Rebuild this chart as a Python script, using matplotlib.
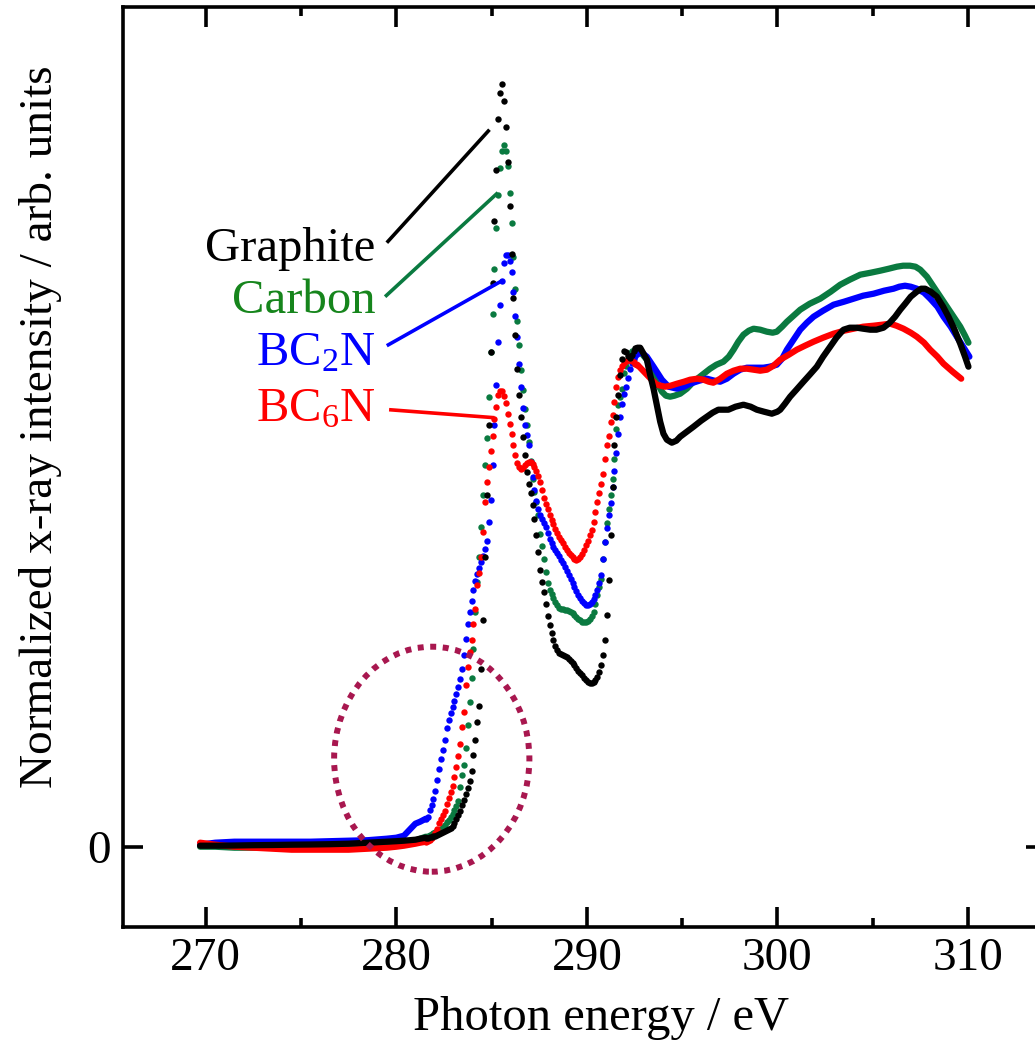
import matplotlib
matplotlib.use("Agg")
import matplotlib.pyplot as plt
from matplotlib.patches import Ellipse
from matplotlib.ticker import MultipleLocator

plt.rcParams['font.family'] = ['Liberation Serif', 'DejaVu Serif']
plt.rcParams['mathtext.fontset'] = 'custom'
plt.rcParams['mathtext.rm'] = 'Liberation Serif'
plt.rcParams['mathtext.it'] = 'Liberation Serif:italic'

# ---------------- data (photon energy in eV, normalized intensity in arb. units) ----------------
series_names = ["Graphite", "Carbon", "BC$_2$N", "BC$_6$N"]

# pre-edge baseline (shared energies)
base_energy = [269.7, 270.5, 271.5, 272.5, 273.5, 274.5, 275.5, 276.5, 277.5, 278.5,
               279.5, 280.0, 280.4, 280.7, 281.0, 281.25, 281.55]
graphite_base = [0.01, 0.01, 0.012, 0.015, 0.017, 0.02, 0.022, 0.025, 0.03, 0.04,
                 0.05, 0.055, 0.06, 0.065, 0.07, 0.08, 0.09]
carbon_base = [0.0, 0.0, -0.01, -0.01, -0.01, -0.01, -0.01, -0.01, 0.0, 0.0,
               0.01, 0.02, 0.03, 0.05, 0.06, 0.08, 0.10]
bc2n_base = [0.02, 0.04, 0.05, 0.05, 0.05, 0.05, 0.05, 0.055, 0.06, 0.065,
             0.08, 0.09, 0.11, 0.17, 0.23, 0.25, 0.28]
bc6n_base = [0.04, 0.02, 0.0, -0.01, -0.02, -0.03, -0.03, -0.03, -0.03, -0.02,
             -0.01, 0.0, 0.01, 0.02, 0.03, 0.04, 0.05]

# absorption edge region, measured points every 0.1 eV
edge_energy = [281.55, 281.65, 281.75, 281.85, 281.95, 282.05, 282.15, 282.25, 282.35, 282.45,
               282.55, 282.65, 282.75, 282.85, 282.95, 283.05, 283.15, 283.25, 283.35, 283.45,
               283.55, 283.65, 283.75, 283.85, 283.95, 284.05, 284.15, 284.25, 284.35, 284.45,
               284.55, 284.65, 284.75, 284.85, 284.95, 285.05, 285.15, 285.25, 285.35, 285.45,
               285.55, 285.65, 285.75, 285.85, 285.95, 286.05, 286.15, 286.25, 286.35, 286.45,
               286.55, 286.65, 286.75, 286.85, 286.95, 287.05, 287.15, 287.25, 287.35, 287.45,
               287.55, 287.65, 287.75, 287.85, 287.95, 288.05, 288.15, 288.25, 288.35, 288.45,
               288.55, 288.65, 288.75, 288.85, 288.95, 289.05, 289.15, 289.25, 289.35, 289.45,
               289.55, 289.65, 289.75, 289.85, 289.95, 290.05, 290.15, 290.25, 290.35, 290.45,
               290.55, 290.65, 290.75, 290.85, 290.95, 291.05, 291.15, 291.25, 291.35, 291.45,
               291.55, 291.65, 291.75, 291.85, 291.95, 292.05, 292.15, 292.25, 292.35, 292.45,
               292.55, 292.65]
graphite_edge = [0.09, 0.09, 0.10, 0.10, 0.11, 0.11, 0.12, 0.13, 0.14, 0.15,
                 0.16, 0.17, 0.18, 0.19, 0.21, 0.24, 0.28, 0.32, 0.36, 0.42,
                 0.47, 0.53, 0.59, 0.66, 0.76, 0.92, 1.07, 1.25, 1.41, 1.78,
                 2.27, 2.90, 3.52, 4.22, 4.95, 5.64, 6.26, 6.77, 7.28, 7.54,
                 7.63, 7.46, 7.20, 6.85, 6.41, 5.93, 5.49, 5.12, 4.78, 4.52,
                 4.30, 4.10, 3.92, 3.75, 3.63, 3.54, 3.42, 3.28, 3.12, 2.95,
                 2.77, 2.65, 2.55, 2.43, 2.31, 2.22, 2.14, 2.07, 2.01, 1.97,
                 1.94, 1.93, 1.92, 1.91, 1.90, 1.88, 1.86, 1.84, 1.82, 1.79,
                 1.76, 1.74, 1.72, 1.69, 1.67, 1.65, 1.64, 1.64, 1.65, 1.67,
                 1.70, 1.75, 1.82, 1.92, 2.07, 2.32, 2.67, 3.12, 3.60, 4.02,
                 4.30, 4.52, 4.72, 4.88, 4.96, 4.95, 4.91, 4.89, 4.92, 4.96,
                 4.99, 4.99]
carbon_edge = [0.10, 0.11, 0.12, 0.13, 0.14, 0.15, 0.16, 0.17, 0.18, 0.20,
               0.22, 0.25, 0.27, 0.30, 0.33, 0.37, 0.41, 0.46, 0.60, 0.72,
               0.82, 0.99, 1.22, 1.45, 1.69, 1.98, 2.35, 2.65, 2.90, 3.20,
               3.52, 3.82, 4.09, 4.50, 4.95, 5.33, 5.78, 6.19, 6.52, 6.79,
               6.96, 7.02, 6.96, 6.81, 6.54, 6.24, 5.90, 5.58, 5.26, 5.02,
               4.77, 4.57, 4.38, 4.22, 4.05, 3.86, 3.68, 3.55, 3.45, 3.32,
               3.13, 3.01, 2.88, 2.75, 2.64, 2.57, 2.53, 2.49, 2.45, 2.42,
               2.39, 2.38, 2.38, 2.37, 2.37, 2.36, 2.35, 2.34, 2.32, 2.30,
               2.28, 2.27, 2.25, 2.25, 2.25, 2.26, 2.28, 2.31, 2.35, 2.43,
               2.52, 2.60, 2.68, 2.88, 3.05, 3.24, 3.38, 3.52, 3.68, 3.88,
               4.18, 4.42, 4.50, 4.58, 4.74, 4.81, 4.88, 4.94, 4.96, 4.97,
               4.97, 4.96]
bc2n_edge = [0.28, 0.30, 0.37, 0.42, 0.48, 0.56, 0.67, 0.78, 0.88, 0.97,
             1.07, 1.19, 1.27, 1.34, 1.40, 1.46, 1.53, 1.60, 1.68, 1.78,
             1.92, 2.08, 2.23, 2.35, 2.46, 2.57, 2.66, 2.73, 2.79, 2.85,
             2.91, 2.98, 3.06, 3.25, 3.47, 3.82, 4.22, 4.62, 5.05, 5.42,
             5.66, 5.84, 5.92, 5.92, 5.86, 5.75, 5.55, 5.31, 5.10, 4.83,
             4.60, 4.39, 4.22, 4.12, 4.02, 3.85, 3.70, 3.57, 3.46, 3.38,
             3.32, 3.28, 3.24, 3.20, 3.14, 3.08, 3.04, 3.00, 2.97, 2.94,
             2.91, 2.87, 2.84, 2.80, 2.76, 2.72, 2.68, 2.64, 2.60, 2.56,
             2.52, 2.49, 2.46, 2.44, 2.42, 2.42, 2.43, 2.45, 2.48, 2.52,
             2.57, 2.64, 2.72, 2.88, 3.05, 3.19, 3.32, 3.44, 3.60, 3.76,
             3.94, 4.13, 4.30, 4.43, 4.53, 4.60, 4.69, 4.78, 4.84, 4.88,
             4.91, 4.93]
bc6n_edge = [0.05, 0.06, 0.07, 0.09, 0.11, 0.14, 0.18, 0.24, 0.28, 0.32,
             0.36, 0.43, 0.49, 0.55, 0.61, 0.70, 0.80, 0.91, 1.03, 1.20,
             1.35, 1.62, 1.80, 1.95, 2.07, 2.23, 2.38, 2.62, 2.74, 2.90,
             3.15, 3.45, 3.65, 3.80, 3.96, 4.11, 4.28, 4.40, 4.52, 4.56,
             4.56, 4.51, 4.44, 4.33, 4.23, 4.13, 4.02, 3.92, 3.84, 3.80,
             3.78, 3.79, 3.82, 3.84, 3.85, 3.85, 3.83, 3.80, 3.76, 3.71,
             3.65, 3.57, 3.49, 3.43, 3.38, 3.32, 3.27, 3.23, 3.18, 3.14,
             3.10, 3.07, 3.04, 3.00, 2.97, 2.94, 2.92, 2.90, 2.88, 2.87,
             2.88, 2.90, 2.93, 2.97, 3.02, 3.06, 3.12, 3.17, 3.25, 3.35,
             3.45, 3.54, 3.63, 3.73, 3.88, 4.02, 4.11, 4.25, 4.32, 4.45,
             4.60, 4.70, 4.77, 4.81, 4.84, 4.86, 4.87, 4.87, 4.86, 4.85,
             4.83, 4.82]

# post-edge region
graphite_tail_energy = [292.65, 292.8, 293.15, 293.32, 293.5, 293.67, 293.85, 294.02, 294.2, 294.46,
                        294.7, 294.9, 295.25, 295.6, 296.0, 296.3, 296.6, 296.9, 297.2, 297.43,
                        297.8, 298.22, 298.6, 298.92, 299.3, 299.71, 300.0, 300.15, 300.4, 300.67,
                        301.0, 301.37, 301.7, 302.07, 302.4, 302.77, 303.1, 303.47, 303.8, 304.17,
                        304.5, 304.87, 305.2, 305.57, 305.9, 306.18, 306.45, 306.71, 307.0, 307.32,
                        307.55, 307.76, 308.05, 308.37, 308.7, 308.98, 309.3, 309.6, 309.85, 310.03]
graphite_tail = [4.99, 4.99, 4.87, 4.72, 4.58, 4.42, 4.25, 4.13, 4.07, 4.04,
                 4.06, 4.10, 4.15, 4.20, 4.26, 4.30, 4.34, 4.37, 4.37, 4.37,
                 4.40, 4.42, 4.40, 4.37, 4.35, 4.33, 4.35, 4.37, 4.43, 4.50,
                 4.57, 4.65, 4.72, 4.80, 4.90, 5.00, 5.09, 5.17, 5.19, 5.19,
                 5.18, 5.17, 5.17, 5.19, 5.24, 5.30, 5.37, 5.43, 5.50, 5.55,
                 5.58, 5.58, 5.55, 5.50, 5.40, 5.30, 5.17, 5.03, 4.90, 4.80]
carbon_tail_energy = [292.65, 292.8, 293.15, 293.4, 293.59, 293.94, 294.15, 294.37, 294.6, 294.9,
                      295.25, 295.6, 296.0, 296.47, 296.8, 297.17, 297.45, 297.7, 297.95, 298.22,
                      298.5, 298.75, 299.1, 299.45, 299.75, 299.97, 300.25, 300.5, 300.85, 301.2,
                      301.7, 302.25, 302.8, 303.3, 303.8, 304.35, 304.9, 305.4, 305.85, 306.27,
                      306.6, 306.96, 307.25, 307.5, 307.85, 308.2, 308.55, 308.9, 309.25, 309.6,
                      309.85, 310.03]
carbon_tail = [4.96, 4.95, 4.87, 4.77, 4.67, 4.55, 4.51, 4.50, 4.51, 4.53,
               4.58, 4.65, 4.71, 4.78, 4.82, 4.85, 4.90, 4.97, 5.05, 5.12,
               5.16, 5.18, 5.17, 5.15, 5.14, 5.15, 5.20, 5.25, 5.31, 5.37,
               5.43, 5.48, 5.55, 5.62, 5.67, 5.72, 5.74, 5.76, 5.78, 5.80,
               5.81, 5.81, 5.80, 5.77, 5.70, 5.60, 5.50, 5.40, 5.30, 5.20,
               5.11, 5.04]
bc2n_tail_energy = [292.65, 292.8, 293.15, 293.5, 293.94, 294.29, 294.73, 295.1, 295.42, 295.9,
                    296.3, 296.7, 297.0, 297.35, 297.7, 298.05, 298.4, 298.85, 299.27, 299.6,
                    299.97, 300.25, 300.5, 300.85, 301.2, 301.55, 301.9, 302.4, 302.95, 303.5,
                    304.0, 304.5, 305.05, 305.6, 306.1, 306.4, 306.7, 307.0, 307.32, 307.7,
                    308.02, 308.4, 308.72, 309.1, 309.42, 309.75, 310.08]
bc2n_tail = [4.93, 4.95, 4.90, 4.80, 4.67, 4.60, 4.58, 4.60, 4.63, 4.66,
             4.68, 4.66, 4.65, 4.68, 4.73, 4.77, 4.79, 4.79, 4.79, 4.80,
             4.82, 4.88, 4.97, 5.07, 5.17, 5.24, 5.30, 5.36, 5.42, 5.45,
             5.48, 5.51, 5.53, 5.56, 5.58, 5.60, 5.61, 5.60, 5.58, 5.54,
             5.48, 5.40, 5.30, 5.20, 5.10, 5.00, 4.90]
bc6n_tail_energy = [292.65, 292.9, 293.15, 293.4, 293.67, 294.1, 294.4, 294.73, 295.1, 295.42,
                    295.8, 296.12, 296.4, 296.64, 297.0, 297.35, 297.7, 298.05, 298.4, 298.75,
                    299.1, 299.45, 299.8, 300.15, 300.6, 301.02, 301.45, 301.9, 302.4, 302.95,
                    303.5, 304.0, 304.5, 305.05, 305.5, 305.92, 306.25, 306.62, 307.0, 307.32,
                    307.7, 308.02, 308.4, 308.72, 309.2, 309.65]
bc6n_tail = [4.82, 4.77, 4.72, 4.67, 4.62, 4.60, 4.61, 4.63, 4.65, 4.67,
             4.68, 4.67, 4.65, 4.64, 4.68, 4.73, 4.76, 4.78, 4.78, 4.77,
             4.76, 4.77, 4.81, 4.87, 4.92, 4.97, 5.01, 5.05, 5.09, 5.13,
             5.16, 5.18, 5.20, 5.21, 5.22, 5.23, 5.21, 5.18, 5.14, 5.10,
             5.04, 4.97, 4.90, 4.83, 4.75, 4.68]

x_ticks = [270, 280, 290, 300, 310]
y_ticks = [0]

# label placement (energy, intensity) and leader-line ends
label_anchor = [(278.9, 5.86), (278.9, 5.34), (278.9, 4.81), (278.9, 4.25)]
leader_start = [(279.50, 6.04), (279.41, 5.50), (279.50, 5.01), (279.62, 4.37)]
leader_end = [(284.89, 7.17), (285.33, 6.54), (285.55, 5.66), (285.15, 4.29)]

# --------------------------------- style ---------------------------------
dot_colors = ["#000000", "#0a7a40", "#0000ff", "#ff0000"]
text_colors = ["#000000", "#16851c", "#0000ff", "#ff0000"]

fig = plt.figure(figsize=(10.35, 10.45), dpi=100)
ax = fig.add_axes([123.3 / 1035, 117.7 / 1045, 922.7 / 1035, 920.0 / 1045])

bases = [graphite_base, carbon_base, bc2n_base, bc6n_base]
edges = [graphite_edge, carbon_edge, bc2n_edge, bc6n_edge]
tails_e = [graphite_tail_energy, carbon_tail_energy, bc2n_tail_energy, bc6n_tail_energy]
tails = [graphite_tail, carbon_tail, bc2n_tail, bc6n_tail]

draw_order = [1, 2, 3, 0]  # Carbon, BC2N, BC6N, Graphite on top
for z, i in enumerate(draw_order):
    c = dot_colors[i]
    ax.plot(base_energy, bases[i], color=c, lw=4.5, solid_capstyle='round',
            solid_joinstyle='round', zorder=3 + z)
    ax.plot(tails_e[i], tails[i], color=c, lw=4.5, solid_capstyle='round',
            solid_joinstyle='round', zorder=3 + z)
    ax.plot(edge_energy, edges[i], linestyle='none', marker='o', ms=4.6,
            mfc=c, mec='none', zorder=3 + z)

for i in range(4):
    ax.plot([leader_start[i][0], leader_end[i][0]], [leader_start[i][1], leader_end[i][1]],
            color=dot_colors[i], lw=2.6, solid_capstyle='butt', zorder=10)
    ax.text(label_anchor[i][0], label_anchor[i][1], series_names[i], color=text_colors[i],
            fontsize=35, ha='right', va='baseline', zorder=10)

circle = Ellipse((281.86, 0.875), width=10.25, height=2.25, fill=False,
                 edgecolor='#a8174f', lw=4.3, linestyle=(0, (1, 1.1)), zorder=12)
ax.add_patch(circle)

ax.set_xlim(265.67, 314.1)
ax.set_ylim(-0.806, 8.394)
ax.set_xticks(x_ticks)
ax.xaxis.set_minor_locator(MultipleLocator(5))
ax.set_yticks(y_ticks)
ax.set_yticklabels([str(t) for t in y_ticks])

for s in ax.spines.values():
    s.set_linewidth(2.6)
ax.tick_params(axis='both', which='both', direction='in', top=True, right=True,
               width=2.6, labelsize=34)
ax.tick_params(axis='both', which='major', length=14.4)
ax.tick_params(axis='x', which='minor', length=6.5)
ax.tick_params(axis='x', which='major', pad=7)
ax.tick_params(axis='y', which='major', pad=9)

fig.text(601 / 1035, 1 - 1030 / 1045, "Photon energy / eV", fontsize=35,
         ha='center', va='baseline')
fig.text(52 / 1035, 1 - 426.5 / 1045, "Normalized x-ray intensity / arb. units", fontsize=34,
         rotation=90, rotation_mode='anchor', ha='center', va='baseline')

fig.savefig("out.png", dpi=100)
